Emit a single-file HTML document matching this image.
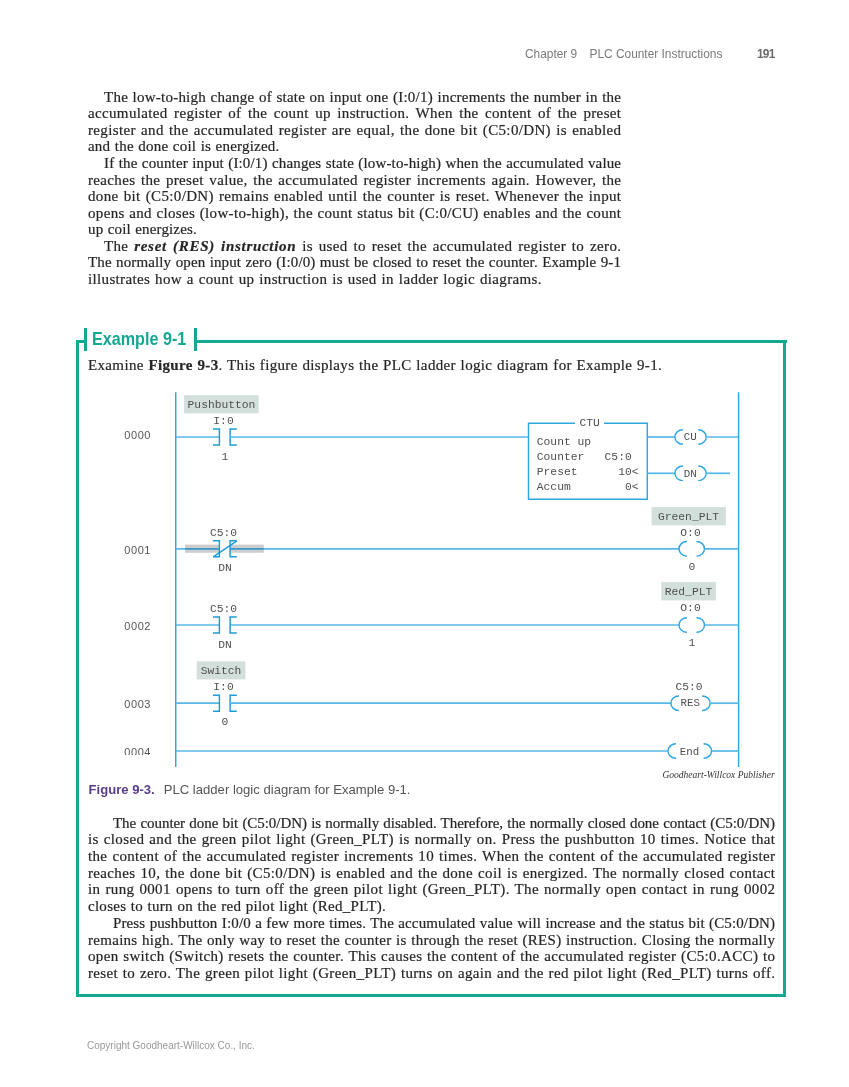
<!DOCTYPE html>
<html><head><meta charset="utf-8"><style>
html,body{margin:0;padding:0;background:#fff;}
body{width:849px;height:1087px;position:relative;overflow:hidden;}
.ln{position:absolute;font-family:"Liberation Serif", serif;color:#262626;line-height:17px;white-space:nowrap;-webkit-text-stroke:0.2px #262626;}
.hd{position:absolute;font-family:"Liberation Sans", sans-serif;font-size:11.9px;color:#7a7a7a;line-height:14px;white-space:nowrap;}
.ex{position:absolute;font-family:"Liberation Sans", sans-serif;font-size:19px;transform-origin:0 0;font-weight:bold;color:#14a892;line-height:22px;white-space:nowrap;}
.cap{position:absolute;font-family:"Liberation Sans", sans-serif;font-size:13.1px;color:#555;line-height:16px;white-space:nowrap;}
.cr{position:absolute;font-family:"Liberation Serif", serif;font-style:italic;font-size:9.5px;color:#333;line-height:12px;white-space:nowrap;}
.ft{position:absolute;font-family:"Liberation Sans", sans-serif;font-size:10px;color:#999;line-height:12px;white-space:nowrap;}
</style></head><body><div id="wrap" style="position:absolute;left:0;top:0;width:849px;height:1087px;will-change:transform;">
<div class="hd" style="left:525px;top:47px;">Chapter 9</div><div class="hd" style="left:589.5px;top:47px;">PLC Counter Instructions</div><div class="hd" style="left:757px;top:47.3px;font-weight:bold;color:#6a6a6a;letter-spacing:-0.8px;">191</div><div class="ln" id="L0" style="left:104px;top:88.74px;font-size:15px;letter-spacing:0.239px;word-spacing:0.518px;">The low-to-high change of state on input one (I:0/1) increments the number in the</div>
<div class="ln" id="L1" style="left:88px;top:105.31px;font-size:15px;letter-spacing:0.350px;word-spacing:2.322px;">accumulated register of the count up instruction. When the content of the preset</div>
<div class="ln" id="L2" style="left:88px;top:121.88px;font-size:15px;letter-spacing:0.350px;word-spacing:1.202px;">register and the accumulated register are equal, the done bit (C5:0/DN) is enabled</div>
<div class="ln" id="L3" style="left:88px;top:138.45px;font-size:15px;letter-spacing:0.214px;word-spacing:0.545px;">and the done coil is energized.</div>
<div class="ln" id="L4" style="left:104px;top:155.02px;font-size:15px;letter-spacing:0.146px;word-spacing:0.513px;">If the counter input (I:0/1) changes state (low-to-high) when the accumulated value</div>
<div class="ln" id="L5" style="left:88px;top:171.59px;font-size:15px;letter-spacing:0.350px;word-spacing:1.457px;">reaches the preset value, the accumulated register increments again. However, the</div>
<div class="ln" id="L6" style="left:88px;top:188.16px;font-size:15px;letter-spacing:0.350px;word-spacing:1.041px;">done bit (C5:0/DN) remains enabled until the counter is reset. Whenever the input</div>
<div class="ln" id="L7" style="left:88px;top:204.73px;font-size:15px;letter-spacing:0.332px;word-spacing:0.527px;">opens and closes (low-to-high), the count status bit (C:0/CU) enables and the count</div>
<div class="ln" id="L8" style="left:88px;top:221.30px;font-size:15px;letter-spacing:0.144px;word-spacing:0.572px;">up coil energizes.</div>
<div class="ln" id="L9" style="left:104px;top:237.87px;font-size:15px;letter-spacing:0.350px;word-spacing:1.735px;">The <b style='letter-spacing:0.7px'><i>reset (RES) instruction</i></b> is used to reset the accumulated register to zero.</div>
<div class="ln" id="L10" style="left:88px;top:254.44px;font-size:15px;letter-spacing:0.126px;word-spacing:0.509px;">The normally open input zero (I:0/0) must be closed to reset the counter. Example 9-1</div>
<div class="ln" id="L11" style="left:88px;top:271.01px;font-size:15px;letter-spacing:0.350px;word-spacing:0.794px;">illustrates how a count up instruction is used in ladder logic diagrams.</div>
<div class="ln" id="L12" style="left:113px;top:814.74px;font-size:15px;letter-spacing:-0.043px;word-spacing:0.497px;">The counter done bit (C5:0/DN) is normally disabled. Therefore, the normally closed done contact (C5:0/DN)</div>
<div class="ln" id="L13" style="left:88px;top:831.42px;font-size:15px;letter-spacing:0.350px;word-spacing:1.008px;">is closed and the green pilot light (Green_PLT) is normally on. Press the pushbutton 10 times. Notice that</div>
<div class="ln" id="L14" style="left:88px;top:848.10px;font-size:15px;letter-spacing:0.350px;word-spacing:0.908px;">the content of the accumulated register increments 10 times. When the content of the accumulated register</div>
<div class="ln" id="L15" style="left:88px;top:864.78px;font-size:15px;letter-spacing:0.350px;word-spacing:0.937px;">reaches 10, the done bit (C5:0/DN) is enabled and the done coil is energized. The normally closed contact</div>
<div class="ln" id="L16" style="left:88px;top:881.46px;font-size:15px;letter-spacing:0.350px;word-spacing:0.977px;">in rung 0001 opens to turn off the green pilot light (Green_PLT). The normally open contact in rung 0002</div>
<div class="ln" id="L17" style="left:88px;top:898.14px;font-size:15px;letter-spacing:0.271px;word-spacing:0.535px;">closes to turn on the red pilot light (Red_PLT).</div>
<div class="ln" id="L18" style="left:113px;top:914.82px;font-size:15px;letter-spacing:0.118px;word-spacing:0.507px;">Press pushbutton I:0/0 a few more times. The accumulated value will increase and the status bit (C5:0/DN)</div>
<div class="ln" id="L19" style="left:88px;top:931.50px;font-size:15px;letter-spacing:0.287px;word-spacing:0.517px;">remains high. The only way to reset the counter is through the reset (RES) instruction. Closing the normally</div>
<div class="ln" id="L20" style="left:88px;top:948.18px;font-size:15px;letter-spacing:0.350px;word-spacing:0.574px;">open switch (Switch) resets the counter. This causes the content of the accumulated register (C5:0.ACC) to</div>
<div class="ln" id="L21" style="left:88px;top:964.86px;font-size:15px;letter-spacing:0.350px;word-spacing:0.677px;">reset to zero. The green pilot light (Green_PLT) turns on again and the red pilot light (Red_PLT) turns off.</div>
<div class="ln" id="L22" style="left:88px;top:356.64px;font-size:15px;letter-spacing:0.350px;word-spacing:0.587px;">Examine <b>Figure 9-3</b>. This figure displays the PLC ladder logic diagram for Example 9-1.</div>

<div style="position:absolute;left:76px;top:340px;width:3px;height:657px;background:#14a892"></div>
<div style="position:absolute;left:76px;top:340px;width:11px;height:3px;background:#14a892"></div>
<div style="position:absolute;left:84px;top:328px;width:3px;height:23px;background:#14a892"></div>
<div style="position:absolute;left:193.5px;top:328px;width:3px;height:23px;background:#14a892"></div>
<div style="position:absolute;left:193.5px;top:340px;width:593px;height:3px;background:#14a892"></div>
<div style="position:absolute;left:783px;top:340px;width:3px;height:657px;background:#14a892"></div>
<div style="position:absolute;left:76px;top:994px;width:710px;height:3px;background:#14a892"></div>
<div class="ex" style="left:92.3px;top:327.9px;transform:scaleX(0.85);">Example 9-1</div>
<div class="cap" style="left:88.5px;top:782px;"><b style="color:#5a3c8c">Figure 9-3.</b><span style="margin-left:9px">PLC</span> ladder logic diagram for Example 9-1.</div><div class="cr" style="left:662.5px;top:769px;">Goodheart-Willcox Publisher</div><div class="ft" style="left:87px;top:1039.5px;">Copyright Goodheart-Willcox Co., Inc.</div><svg width="849" height="1087" style="position:absolute;left:0;top:0">
<line x1="175.75" y1="392.3" x2="175.75" y2="766.9" stroke="#2ea6e2" fill="none" stroke-width="1.45"/>
<line x1="738.6" y1="392.3" x2="738.6" y2="766.9" stroke="#2ea6e2" fill="none" stroke-width="1.45"/>
<rect x="184.1" y="395.2" width="74.5" height="18.2" fill="#d3dfdb"/>
<text x="221.5" y="408.2" font-family='"Liberation Mono", monospace' font-size="11.3" fill="#505050" text-anchor="middle" xml:space="preserve">Pushbutton</text>
<text x="223.5" y="424.2" font-family='"Liberation Mono", monospace' font-size="11.3" fill="#505050" text-anchor="middle" xml:space="preserve">I:0</text>
<text x="225" y="459.5" font-family='"Liberation Mono", monospace' font-size="11.3" fill="#505050" text-anchor="middle" xml:space="preserve">1</text>
<line x1="175.75" y1="437" x2="219.4" y2="437" stroke="#55b8e8" fill="none" stroke-width="1.7"/>
<path d="M213,429 H219.4 V445 H213" stroke="#1f9ad8" fill="none" stroke-width="1.45"/>
<path d="M236.8,429 H230.1 V445 H236.8" stroke="#1f9ad8" fill="none" stroke-width="1.45"/>
<line x1="230.1" y1="437" x2="528.5" y2="437" stroke="#55b8e8" fill="none" stroke-width="1.7"/>
<path d="M575,423.2 H528.5 V499.3 H647.3 V423.2 H604" stroke="#2ea6e2" fill="none" stroke-width="1.45" stroke-width="1.3"/>
<text x="589.7" y="426.3" font-family='"Liberation Mono", monospace' font-size="11.3" fill="#505050" text-anchor="middle" xml:space="preserve">CTU</text>
<text x="536.8" y="445.2" font-family='"Liberation Mono", monospace' font-size="11.3" fill="#505050" text-anchor="start" xml:space="preserve">Count up</text>
<text x="536.8" y="459.9" font-family='"Liberation Mono", monospace' font-size="11.3" fill="#505050" text-anchor="start" xml:space="preserve">Counter   C5:0</text>
<text x="536.8" y="474.9" font-family='"Liberation Mono", monospace' font-size="11.3" fill="#505050" text-anchor="start" xml:space="preserve">Preset      10&lt;</text>
<text x="536.8" y="489.7" font-family='"Liberation Mono", monospace' font-size="11.3" fill="#505050" text-anchor="start" xml:space="preserve">Accum        0&lt;</text>
<line x1="647.3" y1="437" x2="675" y2="437" stroke="#55b8e8" fill="none" stroke-width="1.7"/>
<path d="M682.9,429.7 A8.0,7.3 0 0 0 682.9,444.3" stroke="#2ea6e2" fill="none" stroke-width="1.45"/>
<path d="M698.2,429.7 A8.0,7.3 0 0 1 698.2,444.3" stroke="#2ea6e2" fill="none" stroke-width="1.45"/>
<text x="690.3" y="440.2" font-family='"Liberation Mono", monospace' font-size="10.8" fill="#505050" text-anchor="middle" xml:space="preserve">CU</text>
<line x1="706.2" y1="437" x2="738.6" y2="437" stroke="#55b8e8" fill="none" stroke-width="1.7"/>
<line x1="647.3" y1="473.3" x2="675" y2="473.3" stroke="#55b8e8" fill="none" stroke-width="1.7"/>
<path d="M682.9,466.0 A8.0,7.3 0 0 0 682.9,480.6" stroke="#2ea6e2" fill="none" stroke-width="1.45"/>
<path d="M698.2,466.0 A8.0,7.3 0 0 1 698.2,480.6" stroke="#2ea6e2" fill="none" stroke-width="1.45"/>
<text x="690.3" y="476.5" font-family='"Liberation Mono", monospace' font-size="10.8" fill="#505050" text-anchor="middle" xml:space="preserve">DN</text>
<line x1="706.2" y1="473.3" x2="730" y2="473.3" stroke="#55b8e8" fill="none" stroke-width="1.7"/>
<line x1="175.75" y1="548.8" x2="219.4" y2="548.8" stroke="#55b8e8" fill="none" stroke-width="1.7"/>
<line x1="230.1" y1="548.8" x2="679.2" y2="548.8" stroke="#55b8e8" fill="none" stroke-width="1.7"/>
<rect x="185" y="544.6" width="34.6" height="8.2" fill="#c4c4c4" fill-opacity="0.85"/>
<rect x="229.8" y="544.6" width="34" height="8.2" fill="#c4c4c4" fill-opacity="0.85"/>
<line x1="185" y1="548.8" x2="219.4" y2="548.8" stroke="#3d9bcb" stroke-width="1.7"/>
<line x1="230.1" y1="548.8" x2="263.8" y2="548.8" stroke="#3d9bcb" stroke-width="1.7"/>
<path d="M213,540.8 H219.4 V556.8 H213" stroke="#1f9ad8" fill="none" stroke-width="1.45"/>
<path d="M236.8,540.8 H230.1 V556.8 H236.8" stroke="#1f9ad8" fill="none" stroke-width="1.45"/>
<line x1="213.2" y1="556.8" x2="236.6" y2="541.1999999999999" stroke="#1f9ad8" fill="none" stroke-width="1.45"/>
<text x="223.5" y="536" font-family='"Liberation Mono", monospace' font-size="11.3" fill="#505050" text-anchor="middle" xml:space="preserve">C5:0</text>
<text x="225" y="571" font-family='"Liberation Mono", monospace' font-size="11.3" fill="#505050" text-anchor="middle" xml:space="preserve">DN</text>
<rect x="651.6" y="507.1" width="74.3" height="18.3" fill="#d3dfdb"/>
<text x="688.5" y="519.9" font-family='"Liberation Mono", monospace' font-size="11.3" fill="#505050" text-anchor="middle" xml:space="preserve">Green_PLT</text>
<text x="690.5" y="536.1" font-family='"Liberation Mono", monospace' font-size="11.3" fill="#505050" text-anchor="middle" xml:space="preserve">O:0</text>
<path d="M687,541.5 A8.0,7.3 0 0 0 687,556.0999999999999" stroke="#2ea6e2" fill="none" stroke-width="1.45"/>
<path d="M696.5,541.5 A8.0,7.3 0 0 1 696.5,556.0999999999999" stroke="#2ea6e2" fill="none" stroke-width="1.45"/>
<text x="692" y="570.4" font-family='"Liberation Mono", monospace' font-size="11.3" fill="#505050" text-anchor="middle" xml:space="preserve">0</text>
<line x1="704.5" y1="548.8" x2="738.6" y2="548.8" stroke="#55b8e8" fill="none" stroke-width="1.7"/>
<line x1="175.75" y1="625" x2="219.4" y2="625" stroke="#55b8e8" fill="none" stroke-width="1.7"/>
<line x1="230.1" y1="625" x2="679.2" y2="625" stroke="#55b8e8" fill="none" stroke-width="1.7"/>
<path d="M213,617 H219.4 V633 H213" stroke="#1f9ad8" fill="none" stroke-width="1.45"/>
<path d="M236.8,617 H230.1 V633 H236.8" stroke="#1f9ad8" fill="none" stroke-width="1.45"/>
<text x="223.5" y="612.4" font-family='"Liberation Mono", monospace' font-size="11.3" fill="#505050" text-anchor="middle" xml:space="preserve">C5:0</text>
<text x="225" y="647.7" font-family='"Liberation Mono", monospace' font-size="11.3" fill="#505050" text-anchor="middle" xml:space="preserve">DN</text>
<rect x="661.2" y="582.1" width="54.7" height="18.3" fill="#d3dfdb"/>
<text x="688.5" y="594.9" font-family='"Liberation Mono", monospace' font-size="11.3" fill="#505050" text-anchor="middle" xml:space="preserve">Red_PLT</text>
<text x="690.5" y="611.1" font-family='"Liberation Mono", monospace' font-size="11.3" fill="#505050" text-anchor="middle" xml:space="preserve">O:0</text>
<path d="M687,617.7 A8.0,7.3 0 0 0 687,632.3" stroke="#2ea6e2" fill="none" stroke-width="1.45"/>
<path d="M696.5,617.7 A8.0,7.3 0 0 1 696.5,632.3" stroke="#2ea6e2" fill="none" stroke-width="1.45"/>
<text x="692" y="645.7" font-family='"Liberation Mono", monospace' font-size="11.3" fill="#505050" text-anchor="middle" xml:space="preserve">1</text>
<line x1="704.5" y1="625" x2="738.6" y2="625" stroke="#55b8e8" fill="none" stroke-width="1.7"/>
<rect x="196.7" y="661.4" width="48.7" height="18" fill="#d3dfdb"/>
<text x="221" y="674" font-family='"Liberation Mono", monospace' font-size="11.3" fill="#505050" text-anchor="middle" xml:space="preserve">Switch</text>
<text x="223.5" y="690" font-family='"Liberation Mono", monospace' font-size="11.3" fill="#505050" text-anchor="middle" xml:space="preserve">I:0</text>
<text x="225" y="725" font-family='"Liberation Mono", monospace' font-size="11.3" fill="#505050" text-anchor="middle" xml:space="preserve">0</text>
<line x1="175.75" y1="703.2" x2="219.4" y2="703.2" stroke="#55b8e8" fill="none" stroke-width="1.7"/>
<path d="M213,695.2 H219.4 V711.2 H213" stroke="#1f9ad8" fill="none" stroke-width="1.45"/>
<path d="M236.8,695.2 H230.1 V711.2 H236.8" stroke="#1f9ad8" fill="none" stroke-width="1.45"/>
<line x1="230.1" y1="703.2" x2="671" y2="703.2" stroke="#55b8e8" fill="none" stroke-width="1.7"/>
<text x="689" y="689.8" font-family='"Liberation Mono", monospace' font-size="11.3" fill="#505050" text-anchor="middle" xml:space="preserve">C5:0</text>
<path d="M678.9,695.9000000000001 A8.0,7.3 0 0 0 678.9,710.5" stroke="#2ea6e2" fill="none" stroke-width="1.45"/>
<path d="M702.2,695.9000000000001 A8.0,7.3 0 0 1 702.2,710.5" stroke="#2ea6e2" fill="none" stroke-width="1.45"/>
<text x="690.2" y="706.2" font-family='"Liberation Mono", monospace' font-size="10.8" fill="#505050" text-anchor="middle" xml:space="preserve">RES</text>
<line x1="710.2" y1="703.2" x2="738.6" y2="703.2" stroke="#55b8e8" fill="none" stroke-width="1.7"/>
<line x1="175.75" y1="751" x2="667.8" y2="751" stroke="#55b8e8" fill="none" stroke-width="1.7"/>
<path d="M676,743.7 A8.0,7.3 0 0 0 676,758.3" stroke="#2ea6e2" fill="none" stroke-width="1.45"/>
<path d="M703.6,743.7 A8.0,7.3 0 0 1 703.6,758.3" stroke="#2ea6e2" fill="none" stroke-width="1.45"/>
<text x="689.6" y="754.9" font-family='"Liberation Mono", monospace' font-size="10.8" fill="#505050" text-anchor="middle" xml:space="preserve">End</text>
<line x1="711.6" y1="751" x2="738.6" y2="751" stroke="#55b8e8" fill="none" stroke-width="1.7"/>
<text x="124.3" y="439.1" font-family='"Liberation Sans", sans-serif' font-size="11" letter-spacing="0.55" fill="#555">0000</text>
<text x="124.3" y="553.8" font-family='"Liberation Sans", sans-serif' font-size="11" letter-spacing="0.55" fill="#555">0001</text>
<text x="124.3" y="630.2" font-family='"Liberation Sans", sans-serif' font-size="11" letter-spacing="0.55" fill="#555">0002</text>
<text x="124.3" y="708" font-family='"Liberation Sans", sans-serif' font-size="11" letter-spacing="0.55" fill="#555">0003</text>
<text x="124.3" y="756" font-family='"Liberation Sans", sans-serif' font-size="11" letter-spacing="0.55" fill="#555">0004</text>
<rect x="118" y="755" width="40" height="4" fill="#fff"/>
</svg>
</div></body></html>
